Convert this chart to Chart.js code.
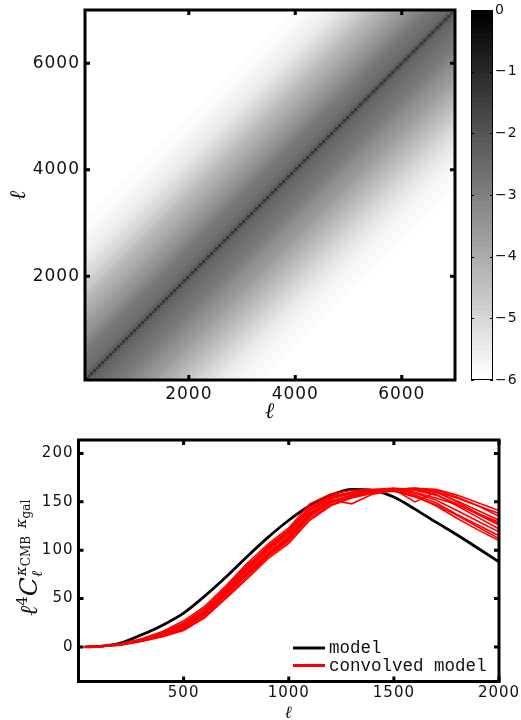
<!DOCTYPE html>
<html>
<head>
<meta charset="utf-8">
<script src="https://cdn.jsdelivr.net/npm/chart.js@4.4.0/dist/chart.umd.min.js"></script>
<style>
  html, body { margin: 0; padding: 0; background: #fff; overflow: hidden; }
  #wrap { position: relative; width: 521px; height: 720px; }
  canvas { position: absolute; left: 0; }
  #matrixChart { top: 0; }
  #spectrumChart { top: 425px; }
</style>
</head>
<body>
<div id="wrap">
  <canvas id="matrixChart" width="521" height="425"></canvas>
  <canvas id="spectrumChart" width="521" height="295"></canvas>
</div>
<script>
// --- Coupling matrix (top panel) ---
const cellSize = 50;            // ell bin width of the matrix cells
const ellMin = 50, ellMax = 7000;
const matrixTicks = [2000, 4000, 6000];
const colorbarTicks = [0, -1, -2, -3, -4, -5, -6];
const colorLevels = 64;

// log10 coupling vs. distance from the diagonal (in cells)
// upperBand: cells above the diagonal, lowerBand: cells below it
const upperBand = [-1.3, -2.25, -2.4, -2.5, -2.55, -2.6, -2.65, -2.7, -2.75, -2.8,
  -2.9, -2.95, -3.0, -3.1, -3.15, -3.25, -3.3, -3.4, -3.45, -3.55,
  -3.6, -3.7, -3.75, -3.85, -3.9, -4.0, -4.05, -4.15, -4.2, -4.3,
  -4.35, -4.45, -4.5, -4.6, -4.7, -4.75, -4.85, -4.92, -5.0, -5.08,
  -5.15, -5.22, -5.3, -5.36, -5.42, -5.47, -5.52, -5.56, -5.6, -5.64,
  -5.68, -5.71, -5.74, -5.77, -5.8, -5.83, -5.85, -5.87, -5.89, -5.9,
  -5.92, -5.96, -6];
const lowerBand = [-1.3, -2.15, -2.3, -2.4, -2.45, -2.5, -2.55, -2.6, -2.65, -2.7,
  -2.75, -2.8, -2.85, -2.9, -2.95, -3.0, -3.05, -3.15, -3.2, -3.25,
  -3.35, -3.4, -3.45, -3.55, -3.6, -3.65, -3.75, -3.8, -3.85, -3.95,
  -4.0, -4.1, -4.15, -4.25, -4.3, -4.4, -4.45, -4.55, -4.6, -4.7,
  -4.75, -4.82, -4.9, -4.97, -5.05, -5.12, -5.2, -5.25, -5.3, -5.35,
  -5.4, -5.45, -5.5, -5.54, -5.58, -5.62, -5.65, -5.69, -5.72, -5.75,
  -5.78, -5.8, -5.83, -5.85, -5.87, -5.89, -5.9, -6];

// --- Power spectrum (bottom panel) ---
const ell = [30, 100, 200, 300, 400, 500, 600, 700, 800, 900, 1000,
  1100, 1200, 1300, 1400, 1500, 1600, 1700, 1800, 1900, 2000];
const model = [0, 0.6, 4, 12.5, 22.5, 35, 52.5, 72, 93, 113, 131,
  146, 157, 163, 162, 155, 142.5, 129, 116, 102, 88];
const convolved = [
  [0, 0.5, 3.0, 8.0, 15.0, 25.0, 40.0, 60.0, 82.0, 104.0, 121.0, 145.0, 156.0, 160.0, 162.0, 163.0, 164.0, 163.0, 157.0, 149.0, 141.0],
  [0, 0.4, 2.8, 7.5, 14.0, 23.0, 37.0, 58.0, 80.0, 101.0, 118.0, 141.0, 153.0, 159.0, 161.0, 163.0, 164.0, 162.0, 155.0, 146.0, 135.0],
  [0, 0.3, 2.4, 6.5, 12.0, 20.0, 34.0, 55.0, 76.0, 96.0, 113.0, 137.0, 150.0, 157.0, 162.0, 164.0, 163.0, 160.0, 151.0, 141.0, 131.0],
  [0, 0.5, 3.2, 8.5, 16.0, 27.0, 42.0, 63.0, 86.0, 106.0, 123.0, 148.0, 158.0, 162.0, 163.0, 164.0, 160.0, 154.0, 147.0, 138.0, 129.0],
  [0, 0.2, 2.0, 6.0, 11.0, 18.0, 31.0, 51.0, 72.0, 93.0, 109.0, 133.0, 147.0, 155.0, 160.0, 163.0, 162.0, 157.0, 148.0, 137.0, 126.0],
  [0, 0.4, 2.6, 7.0, 13.0, 22.0, 36.0, 57.0, 79.0, 99.0, 116.0, 139.0, 152.0, 148.0, 158.0, 162.0, 163.0, 158.0, 146.0, 134.0, 122.0],
  [0, 0.3, 2.2, 6.2, 12.0, 19.0, 33.0, 53.0, 75.0, 95.0, 112.0, 136.0, 149.0, 156.0, 161.0, 163.0, 159.0, 152.0, 141.0, 130.0, 119.0],
  [0, 0.5, 3.0, 8.0, 14.5, 24.0, 39.0, 61.0, 84.0, 103.0, 120.0, 143.0, 155.0, 160.0, 162.0, 162.0, 157.0, 149.0, 137.0, 126.0, 115.0],
  [0, 0.3, 2.5, 6.8, 12.5, 21.0, 35.0, 56.0, 77.0, 97.0, 114.0, 138.0, 151.0, 157.0, 160.0, 161.0, 155.0, 147.0, 136.0, 124.0, 112.0],
  [0, 0.2, 1.8, 5.5, 10.5, 17.0, 30.0, 50.0, 70.0, 91.0, 107.0, 131.0, 146.0, 154.0, 159.0, 162.0, 156.0, 146.0, 133.0, 121.0, 110.0],
  [0, 0.4, 2.7, 7.2, 13.5, 22.5, 37.0, 58.0, 81.0, 102.0, 119.0, 142.0, 154.0, 159.0, 162.0, 163.0, 150.0, 160.0, 154.0, 146.0, 138.0],
  [0, 0.3, 2.3, 6.3, 11.5, 19.5, 33.0, 54.0, 74.0, 94.0, 111.0, 135.0, 149.0, 157.0, 161.0, 163.0, 164.0, 161.0, 150.0, 138.0, 127.0]
];
const spectrumXTicks = [500, 1000, 1500, 2000];
const spectrumYTicks = [0, 50, 100, 150, 200];

Chart.defaults.font.family = '"DejaVu Sans", sans-serif';
Chart.defaults.color = '#111';

// MATLAB-like gray colormap: -6 -> white, 0 -> black
function grayFor(v) {
  let idx = Math.floor((v + 6) / 6 * colorLevels);
  idx = Math.max(0, Math.min(colorLevels - 1, idx));
  const g = Math.round(255 * (1 - idx / (colorLevels - 1)));
  return `rgb(${g},${g},${g})`;
}

const lockTicks = values => scale => { scale.ticks = values.map(v => ({ value: v })); };
const fixWidth = w => scale => { scale.width = w; };
const fixHeight = h => scale => { scale.height = h; };
// label offset via an invisible tick length (ticks.padding would also pad the chart area)
const noGrid = len => ({ display: false, drawTicks: true, tickLength: len });

const spacing = {
  id: 'spacing',
  beforeDraw(chart) { chart.ctx.letterSpacing = '1px'; }
};

// Box around the axes with inward ticks on all four sides
const frame = {
  id: 'frame',
  afterDraw(chart) {
    const { ctx, chartArea: a, scales } = chart;
    ctx.save();
    ctx.strokeStyle = '#000';
    ctx.lineWidth = 3;
    ctx.strokeRect(a.left, a.top, a.right - a.left, a.bottom - a.top);
    const len = 5;
    ctx.beginPath();
    scales.x.ticks.forEach(t => {
      const px = scales.x.getPixelForValue(t.value);
      ctx.moveTo(px, a.bottom); ctx.lineTo(px, a.bottom - len);
      ctx.moveTo(px, a.top); ctx.lineTo(px, a.top + len);
    });
    scales.y.ticks.forEach(t => {
      const py = scales.y.getPixelForValue(t.value);
      ctx.moveTo(a.left, py); ctx.lineTo(a.left + len, py);
      ctx.moveTo(a.right, py); ctx.lineTo(a.right - len, py);
    });
    ctx.stroke();
    ctx.restore();
  }
};

const heatmap = {
  id: 'heatmap',
  beforeDatasetsDraw(chart) {
    const { ctx, chartArea: a, scales: { x, y } } = chart;
    const edges = [];
    for (let e = ellMin; e <= ellMax; e += cellSize) edges.push(e);
    const xs = edges.map(e => Math.round(x.getPixelForValue(e)));
    const ys = edges.map(e => Math.round(y.getPixelForValue(e)));
    ctx.save();
    ctx.beginPath();
    ctx.rect(a.left, a.top, a.right - a.left, a.bottom - a.top);
    ctx.clip();
    for (let i = 0; i < edges.length - 1; i++) {
      for (let j = 0; j < edges.length - 1; j++) {
        const k = Math.abs(i - j);
        const band = j > i ? upperBand : lowerBand;
        const v = k < band.length ? band[k] : -6;
        if (v <= -6) continue;
        ctx.fillStyle = grayFor(v);
        ctx.fillRect(xs[i], ys[j + 1], xs[i + 1] - xs[i], ys[j] - ys[j + 1]);
      }
    }
    ctx.restore();
  }
};

const colorbar = {
  id: 'colorbar',
  afterDraw(chart) {
    const { ctx } = chart;
    const cb = chart.scales.cb;
    const x0 = cb.left + 16, x1 = cb.left + 38;
    ctx.save();
    for (let i = 0; i < colorLevels; i++) {
      const lo = -6 + i * 6 / colorLevels, hi = -6 + (i + 1) * 6 / colorLevels;
      const yt = Math.round(cb.getPixelForValue(hi)), yb = Math.round(cb.getPixelForValue(lo));
      const g = Math.round(255 * (1 - i / (colorLevels - 1)));
      ctx.fillStyle = `rgb(${g},${g},${g})`;
      ctx.fillRect(x0, yt, x1 - x0, yb - yt);
    }
    ctx.strokeStyle = '#000';
    ctx.lineWidth = 1;
    ctx.strokeRect(x0 + 0.5, Math.round(cb.top) + 0.5, x1 - x0 - 1, Math.round(cb.bottom - cb.top) - 1);
    ctx.beginPath();
    cb.ticks.forEach(t => {
      const py = Math.round(cb.getPixelForValue(t.value)) + 0.5;
      ctx.moveTo(x0, py); ctx.lineTo(x0 + 3, py);
      ctx.moveTo(x1, py); ctx.lineTo(x1 - 3, py);
    });
    ctx.stroke();
    ctx.restore();
  }
};

new Chart(document.getElementById('matrixChart'), {
  type: 'scatter',
  data: { datasets: [] },
  options: {
    responsive: false,
    animation: false,
    devicePixelRatio: 1,
    layout: { padding: { top: 10, right: 0, bottom: 0, left: 0 } },
    plugins: { legend: { display: false }, tooltip: { enabled: false } },
    scales: {
      x: {
        type: 'linear', min: ellMin, max: ellMax,
        afterBuildTicks: lockTicks(matrixTicks), afterFit: fixHeight(45),
        grid: noGrid(4), border: { display: false },
        ticks: { padding: 0, font: { size: 17 }, callback: v => String(v) },
        title: { display: true, text: 'ℓ', font: { family: '"DejaVu Serif"', style: 'italic', size: 22, lineHeight: 1 }, padding: { top: 0, bottom: 1.5 } }
      },
      y: {
        type: 'linear', position: 'left', min: ellMin, max: ellMax,
        afterBuildTicks: lockTicks(matrixTicks), afterFit: fixWidth(85),
        grid: noGrid(5), border: { display: false },
        ticks: { padding: 0, font: { size: 17, lineHeight: 1 }, callback: v => String(v) },
        title: { display: true, text: 'ℓ', font: { family: '"DejaVu Serif"', style: 'italic', size: 22, lineHeight: 1 }, padding: { top: 8, bottom: 0 } }
      },
      cb: {
        type: 'linear', position: 'right', min: -6, max: 0,
        afterBuildTicks: lockTicks(colorbarTicks), afterFit: fixWidth(66),
        grid: noGrid(40), border: { display: false },
        ticks: { padding: 0, font: { size: 14, lineHeight: 1 }, callback: v => v < 0 ? '\u2212' + Math.abs(v) : String(v) }
      }
    }
  },
  plugins: [spacing, heatmap, colorbar, frame]
});

// y-axis label with sub/superscripts, drawn rotated
const spectrumTitle = {
  id: 'spectrumTitle',
  afterDraw(chart) {
    const { ctx, chartArea: a } = chart;
    const main = [
      ['ℓ', 'italic 24px "DejaVu Serif"', 0],
      ['4', '15px "DejaVu Serif"', -10],
      ['C', 'italic 25px "DejaVu Serif"', 0]
    ];
    const sub = ['ℓ', 'italic 15px "DejaVu Serif"', 5];
    const sup = [
      ['κ', 'italic 15px "DejaVu Serif"', -11],
      ['CMB', '12px "DejaVu Serif"', -7],
      ['  ', '12px "DejaVu Serif"', -7],
      ['κ', 'italic 15px "DejaVu Serif"', -11],
      ['gal', '12px "DejaVu Serif"', -7]
    ];
    ctx.save();
    ctx.letterSpacing = '0px';
    const w = p => { ctx.font = p[1]; return ctx.measureText(p[0]).width; };
    const mainW = main.reduce((s, p) => s + w(p), 0);
    const supW = sup.reduce((s, p) => s + w(p), 0) + 1;
    const total = mainW + Math.max(supW, w(sub));
    ctx.translate(37, (a.top + a.bottom) / 2 - 3);
    ctx.rotate(-Math.PI / 2);
    ctx.fillStyle = '#111';
    ctx.textBaseline = 'alphabetic';
    let x = -total / 2;
    main.forEach(p => { ctx.font = p[1]; ctx.fillText(p[0], x, p[2]); x += w(p); });
    ctx.font = sub[1]; ctx.fillText(sub[0], x, sub[2]);
    let xs = x + 1;
    sup.forEach(p => { ctx.font = p[1]; ctx.fillText(p[0], xs, p[2]); xs += w(p); });
    ctx.restore();
  }
};

const spectrumLegend = {
  id: 'spectrumLegend',
  afterDraw(chart) {
    const { ctx, chartArea: a } = chart;
    const items = [['model', '#000'], ['convolved model', '#ff0000']];
    ctx.save();
    ctx.letterSpacing = '0px';
    ctx.font = '17.5px "Liberation Mono", monospace';
    ctx.textBaseline = 'middle';
    ctx.fillStyle = '#111';
    items.forEach(([label, color], i) => {
      const y = a.bottom - 33.5 + i * 17.5;
      ctx.strokeStyle = color;
      ctx.lineWidth = 3;
      ctx.beginPath();
      ctx.moveTo(a.left + 214.5, y);
      ctx.lineTo(a.left + 246.5, y);
      ctx.stroke();
      ctx.fillText(label, a.left + 250.5, y + 0.5);
    });
    ctx.restore();
  }
};

const toPoints = vals => vals.map((v, i) => ({ x: ell[i], y: v }));

new Chart(document.getElementById('spectrumChart'), {
  type: 'line',
  data: {
    datasets: [
      ...convolved.map(c => ({ data: toPoints(c), borderColor: '#ff0000', borderWidth: 1.6 })),
      { data: toPoints(model), borderColor: '#000', borderWidth: 2.8, cubicInterpolationMode: 'monotone' }
    ]
  },
  options: {
    responsive: false,
    animation: false,
    devicePixelRatio: 1,
    elements: { point: { radius: 0 }, line: { tension: 0 } },
    layout: { padding: { top: 15, right: 22, bottom: 0, left: 0 } },
    plugins: { legend: { display: false }, tooltip: { enabled: false } },
    scales: {
      x: {
        type: 'linear', min: 0, max: 2000,
        afterBuildTicks: lockTicks(spectrumXTicks), afterFit: fixHeight(38.5),
        grid: noGrid(3), border: { display: false },
        ticks: { padding: 0, font: { size: 15 }, callback: v => String(v) },
        title: { display: true, text: 'ℓ', font: { family: '"DejaVu Serif"', style: 'italic', size: 17, lineHeight: 1 }, padding: { top: 0, bottom: -2 } }
      },
      y: {
        type: 'linear', min: -35.8, max: 214,
        afterBuildTicks: lockTicks(spectrumYTicks), afterFit: fixWidth(78.5),
        grid: noGrid(5), border: { display: false },
        ticks: { padding: 0, font: { size: 15, lineHeight: 1 }, callback: v => String(v) }
      }
    }
  },
  plugins: [spacing, frame, spectrumTitle, spectrumLegend]
});
</script>
</body>
</html>
